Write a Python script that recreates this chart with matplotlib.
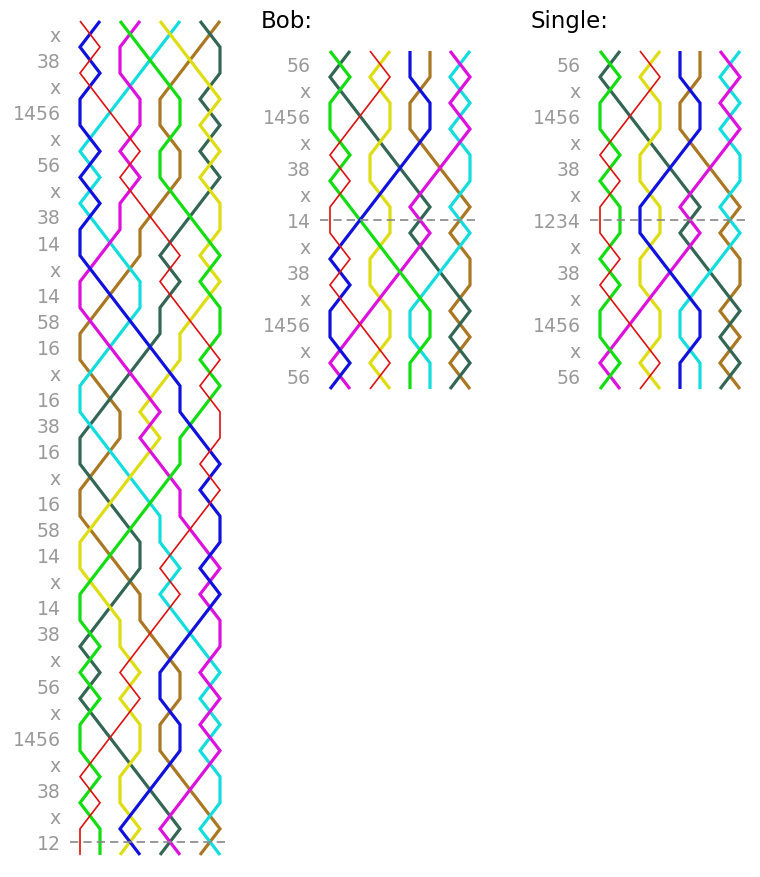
import matplotlib.pyplot as plt

# place notation of one plain lead, read down the left panel
plain_lead = ['x', '38', 'x', '1456', 'x', '56', 'x', '38', '14', 'x', '14', '58', '16', 'x', '16',
              '38', '16', 'x', '16', '58', '14', 'x', '14', '38', 'x', '56', 'x', '1456', 'x', '38', 'x', '12']
bob_changes = ['56', 'x', '1456', 'x', '38', 'x', '14', 'x', '38', 'x', '1456', 'x', '56']
single_changes = ['56', 'x', '1456', 'x', '38', 'x', '1234', 'x', '38', 'x', '1456', 'x', '56']
call_start = 25   # row of the plain lead where the call panels begin
call_index = 6    # the called change inside the call panels

bells = [1, 2, 3, 4, 5, 6, 7, 8]
bell_colours = ['#dd1111', '#1111dd', '#11dd11', '#dd11dd', '#dddd11', '#11dddd', '#336655', '#aa7722']
bell_widths = [1.2, 2.3, 2.3, 2.3, 2.3, 2.3, 2.3, 2.3]


def apply_change(row, change):
    row = list(row)
    places = [] if change == 'x' else [int(c) - 1 for c in change]
    i = 0
    while i < len(row) - 1:
        if i in places:
            i += 1
        else:
            row[i], row[i + 1] = row[i + 1], row[i]
            i += 2
    return row


def rows_from(start, changes):
    rows = [list(start)]
    for c in changes:
        rows.append(apply_change(rows[-1], c))
    return rows


def draw_panel(ax, rows, changes, x0, y0, dy, mark, title=None):
    for b in reversed(bells):
        xs = [x0 + 20 * r.index(b) for r in rows]
        ys = [y0 + k * dy for k in range(len(rows))]
        ax.plot(xs, ys, color=bell_colours[b - 1], lw=bell_widths[b - 1],
                solid_joinstyle='miter', solid_capstyle='butt')
    for k, c in enumerate(changes):
        ax.text(x0 - 19, y0 + (k + 0.5) * dy + 7, c, ha='right', va='baseline',
                color='#999999', fontsize=13.6)
    ym = y0 + (mark + 0.5) * dy
    ax.plot([x0 - 10, x0 + 148], [ym, ym], color='#888888', lw=1.2, ls=(0, (5, 3)))
    if title:
        ax.text(x0 - 69, 28, title, ha='left', va='baseline', color='black', fontsize=16.5)


fig = plt.figure(figsize=(7.6, 8.78), dpi=100)
ax = fig.add_axes([0, 0, 1, 1])
ax.set_xlim(0, 760)
ax.set_ylim(878, 0)
ax.axis('off')

lead_rows = rows_from(bells, plain_lead)
draw_panel(ax, lead_rows, plain_lead, 80, 22, 26.06, len(plain_lead) - 1)

start = lead_rows[call_start]
draw_panel(ax, rows_from(start, bob_changes), bob_changes, 330, 52, 26, call_index, 'Bob:')
draw_panel(ax, rows_from(start, single_changes), single_changes, 600, 52, 26, call_index, 'Single:')

plt.savefig('out.png', dpi=100)
